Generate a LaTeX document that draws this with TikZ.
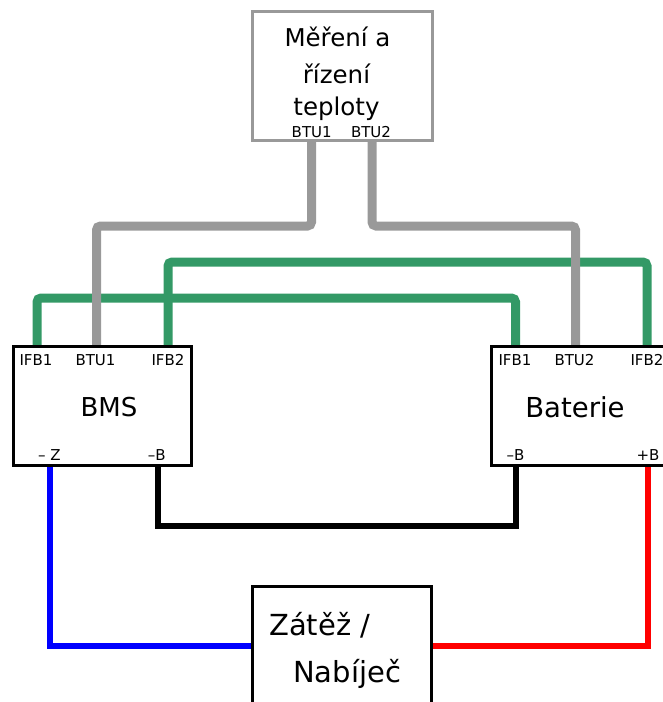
\documentclass[tikz,border=0pt]{standalone}
\usepackage{fontspec}
\setmainfont{DejaVu Sans}
\definecolor{wgray}{RGB}{153,153,153}
\definecolor{wgreen}{RGB}{51,153,102}
\definecolor{wblue}{RGB}{0,0,255}
\definecolor{wred}{RGB}{255,0,0}
\tikzset{
  box/.style={draw=black, line width=3pt, fill=none, inner sep=0pt},
  graybox/.style={draw=wgray, line width=3pt, fill=none, inner sep=0pt},
  thickwire/.style={line width=9pt, rounded corners=4pt},
  thinwire/.style={line width=6pt},
  port/.style={font=\fontsize{15pt}{15pt}\selectfont, anchor=base, inner sep=0pt},
  big/.style={anchor=base, inner sep=0pt},
}
\begin{document}
\begin{tikzpicture}[x=1pt,y=-1pt]
\useasboundingbox (0,0) rectangle (663,702);
% ports
\coordinate (t-btu1) at (311.5,140.5);
\coordinate (t-btu2) at (372,140.5);
\coordinate (b-ifb1) at (37,346);
\coordinate (b-btu1) at (96.5,346);
\coordinate (b-ifb2) at (168,346);
\coordinate (b-z) at (50,465);
\coordinate (b-b) at (157.5,465);
\coordinate (a-ifb1) at (515.5,346);
\coordinate (a-btu2) at (575.5,346);
\coordinate (a-ifb2) at (647,346);
\coordinate (a-mb) at (515.5,465);
\coordinate (a-pb) at (648,465);
\coordinate (z-w) at (253,645.5);
\coordinate (z-e) at (431.7,645.5);
% green wires
\draw[thickwire, wgreen] (b-ifb2) -- (168,262) -- (647,262) -- (a-ifb2);
\draw[thickwire, wgreen] (b-ifb1) -- (37,298) -- (515.5,298) -- (a-ifb1);
% gray wires
\draw[thickwire, wgray] (t-btu1) -- (311.5,226) -- (96.5,226) -- (b-btu1);
\draw[thickwire, wgray] (t-btu2) -- (372,226) -- (575.5,226) -- (a-btu2);
% power wires
\draw[thinwire, black] (b-b) -- (157.5,525.5) -- (515.5,525.5) -- (a-mb);
\draw[thinwire, wblue] (b-z) -- (50,645.5) -- (z-w);
\draw[thinwire, wred] (a-pb) -- (648,645.5) -- (z-e);
% boxes
\node[graybox, minimum width=180pt, minimum height=129pt] (top) at (342.5,76) {};
\node[box, minimum width=178pt, minimum height=119pt] (bms) at (102.5,405.5) {};
\node[box, minimum width=200pt, minimum height=119pt] (bat) at (591.5,405.5) {};
\node[box, minimum width=178.7pt, minimum height=134pt] (load) at (342.3,653) {};
% top box texts
\node[big, font=\fontsize{24.5pt}{24.5pt}\selectfont] (t1) at (337.5,46.7) {Měření a};
\node[big, font=\fontsize{24.5pt}{24.5pt}\selectfont] (t2) at (336.5,83) {řízení};
\node[big, font=\fontsize{24.5pt}{24.5pt}\selectfont] (t3) at (336.5,115) {teploty};
\node[port] (tl1) at (311.7,137.3) {BTU1};
\node[port] (tl2) at (371,137.3) {BTU2};
% BMS
\node[big, font=\fontsize{26pt}{26pt}\selectfont] (bmst) at (109,416) {BMS};
\node[port] (bl1) at (36,365) {IFB1};
\node[port] (bl2) at (95.5,365) {BTU1};
\node[port] (bl3) at (168,365) {IFB2};
\node[port] (bl4) at (49.3,460.7) {– Z};
\node[port] (bl5) at (156.7,460.7) {–B};
% Baterie
\node[big, font=\fontsize{27.5pt}{27.5pt}\selectfont] (batt) at (575,417) {Baterie};
\node[port] (al1) at (515,365) {IFB1};
\node[port] (al2) at (574.5,365) {BTU2};
\node[port] (al3) at (647,365) {IFB2};
\node[port] (al4) at (515.5,460.7) {–B};
\node[port] (al5) at (648,460.7) {+B};
% load / charger
\node[big, anchor=base west, font=\fontsize{29pt}{29pt}\selectfont] (l1) at (269,635) {Zátěž /};
\node[big, anchor=base west, font=\fontsize{29pt}{29pt}\selectfont] (l2) at (293,682) {Nabíječ};
\end{tikzpicture}
\end{document}
